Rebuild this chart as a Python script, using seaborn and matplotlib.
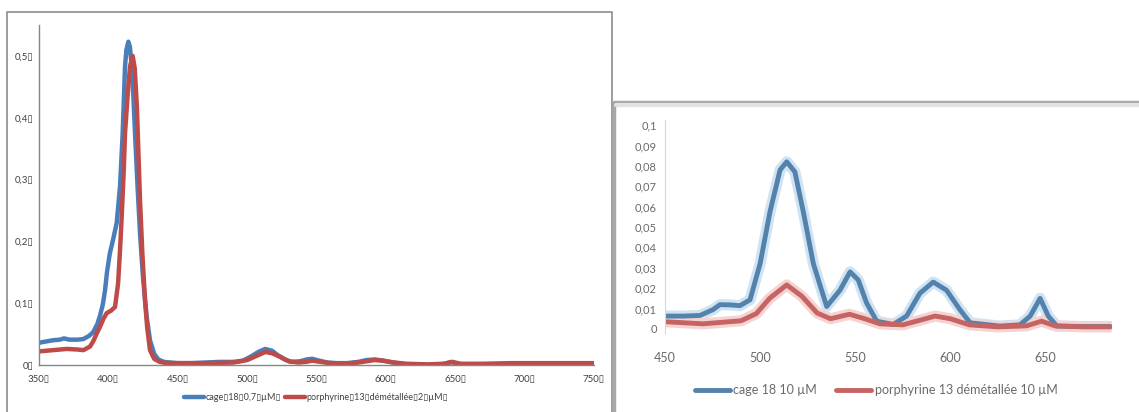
import numpy as np
import pandas as pd
import seaborn as sns
import matplotlib.pyplot as plt
from matplotlib.lines import Line2D

# left spectrum (350-750 nm)
wl_cage = [350, 355, 360, 365, 368, 372, 378, 382, 386, 389, 392, 394, 396, 397.6, 399, 401,
           403.6, 406, 408.4, 410.3, 412, 413, 414.4, 415.5, 416.8, 418, 419.2, 421, 422.8, 425,
           427.6, 430, 433, 436, 440, 450, 460, 470, 480, 490, 497, 503, 508, 513, 518, 522,
           527, 532, 538, 543, 547, 552, 558, 565, 572, 580, 586, 592, 598, 605, 612, 620,
           630, 638, 644, 647, 651, 656, 670, 690, 710, 730, 750]
abs_cage = [0.036, 0.038, 0.040, 0.041, 0.043, 0.041, 0.041, 0.042, 0.047, 0.053, 0.066, 0.080,
            0.098, 0.121, 0.150, 0.180, 0.205, 0.230, 0.289, 0.375, 0.483, 0.510, 0.523, 0.515,
            0.483, 0.435, 0.375, 0.290, 0.213, 0.140, 0.078, 0.040, 0.018, 0.009, 0.005, 0.003,
            0.003, 0.004, 0.005, 0.005, 0.007, 0.014, 0.021, 0.026, 0.023, 0.016, 0.009, 0.005,
            0.006, 0.009, 0.010, 0.007, 0.004, 0.003, 0.003, 0.005, 0.008, 0.009, 0.007, 0.004,
            0.002, -0.001, -0.001, 0.000, 0.003, 0.005, 0.002, -0.001, -0.001, -0.001, 0.000,
            -0.001, 0.000]

wl_porph = [350, 360, 370, 378, 382, 386.8, 389, 391.6, 394, 396.5, 398.8, 402, 404.8, 407,
            408.4, 409.6, 411, 412, 414, 415.6, 417.5, 419, 420.5, 422.8, 424.5, 426.4, 428,
            430, 433, 437, 442, 450, 470, 490, 500, 507, 513, 518, 524, 530, 537, 542, 547,
            553, 560, 570, 580, 586, 592, 598, 606, 615, 630, 642, 648, 654, 670, 690, 710,
            730, 750]
abs_porph = [0.022, 0.024, 0.026, 0.025, 0.024, 0.030, 0.038, 0.051, 0.062, 0.075, 0.084, 0.088,
             0.094, 0.132, 0.186, 0.240, 0.310, 0.375, 0.440, 0.483, 0.500, 0.480, 0.420, 0.267,
             0.180, 0.105, 0.060, 0.024, 0.010, 0.005, 0.003, 0.003, 0.003, 0.004, 0.008, 0.015,
             0.021, 0.019, 0.013, 0.006, 0.004, 0.005, 0.007, 0.005, 0.003, 0.002, 0.004, 0.006,
             0.008, 0.007, 0.004, 0.002, 0.001, 0.002, 0.005, 0.002, 0.002, 0.003, 0.003, 0.003,
             0.003]

# right inset (450-685 nm)
wl_cage_r = [450.9, 460, 468.4, 475.3, 478.9, 484, 489.4, 494.7, 500, 505.2, 510.5, 514, 518.3,
             522.7, 528, 535, 542, 547.3, 551.6, 556, 561.3, 570, 577, 584, 591, 598, 605,
             610.4, 626, 636.6, 642, 647.2, 651.5, 656, 670, 684]
abs_cage_r = [0.0063, 0.0063, 0.0066, 0.0095, 0.0119, 0.0118, 0.0114, 0.0143, 0.032, 0.0575,
              0.078, 0.082, 0.077, 0.0575, 0.032, 0.011, 0.019, 0.028, 0.024, 0.0127, 0.0038,
              0.0022, 0.0063, 0.0175, 0.023, 0.019, 0.0095, 0.003, 0.0014, 0.002, 0.0063, 0.015,
              0.0063, 0.0014, 0.0012, 0.0012]

wl_porph_r = [450.9, 470, 490, 498, 505, 514, 522, 530, 537, 547, 555, 563, 575, 585, 592, 600,
              610, 625, 640, 648, 655, 670, 684]
abs_porph_r = [0.0035, 0.0025, 0.004, 0.0075, 0.015, 0.0216, 0.016, 0.0078, 0.005, 0.0072,
               0.005, 0.0025, 0.002, 0.0045, 0.0063, 0.005, 0.002, 0.001, 0.0015, 0.0038,
               0.0015, 0.001, 0.001]

B = "\u25af"
labels_left = ["cage" + B + "18" + B + "0,7" + B + "µM" + B,
               "porphyrine" + B + "13" + B + "démétallée" + B + "2" + B + "µM" + B]
labels_right = ["cage 18 10 µM", "porphyrine 13 démétallée 10 µM"]

x_ticks_left = [350, 400, 450, 500, 550, 600, 650, 700, 750]
y_ticks_left = [0, 0.1, 0.2, 0.3, 0.4, 0.5]
x_ticks_right = [450, 500, 550, 600, 650]
y_ticks_right = [0, 0.01, 0.02, 0.03, 0.04, 0.05, 0.06, 0.07, 0.08, 0.09, 0.1]

sns.set_style("white")
plt.rcParams['font.family'] = ['Lato', 'DejaVu Sans']

W, H = 1139, 412
fig = plt.figure(figsize=(W / 100, H / 100), dpi=100)

def fx(px):
    return px / W

def fy(py):
    return 1 - py / H

# outer frames
fig.add_artist(Line2D([fx(7), fx(7), fx(612), fx(612)], [0, fy(12), fy(12), 0],
                      color="#8c8c8c", lw=1.2))
fig.add_artist(Line2D([fx(614), fx(614), 1], [0, fy(102), fy(102)], color="#a8a8a8", lw=2.5))
fig.add_artist(Line2D([fx(616), 1], [fy(105), fy(105)], color="#e2e2e2", lw=3))

# ---- left chart
blue = "#4a7ebb"
red = "#be4b48"
ax = fig.add_axes([fx(39), fy(365), fx(594 - 39), (365 - 25) / H])
sns.lineplot(x=wl_cage, y=abs_cage, ax=ax, color=blue, lw=3.2, label=labels_left[0])
sns.lineplot(x=wl_porph, y=abs_porph, ax=ax, color=red, lw=3.2, label=labels_left[1])
ax.set_xlim(350, 750)
ax.set_ylim(0, 0.55)
ax.set_xticks(x_ticks_left)
ax.set_xticklabels([f"{v}{B}" for v in x_ticks_left])
ax.set_yticks(y_ticks_left)
ax.set_yticklabels(["0" + B] + [f"{v:.1f}".replace(".", ",") + B for v in y_ticks_left[1:]])
for s in ["top", "right"]:
    ax.spines[s].set_visible(False)
for s in ["left", "bottom"]:
    ax.spines[s].set_color("#868686")
    ax.spines[s].set_linewidth(1)
ax.tick_params(axis="both", direction="out", length=3, width=0.8, color="#868686",
               labelsize=7, labelcolor="#404040", pad=1)
ax.tick_params(axis="x", pad=4)
ax.legend(loc="center", bbox_to_anchor=(fx(316), fy(398)), bbox_transform=fig.transFigure,
          ncol=2, frameon=False, fontsize=6.5, handlelength=2.2, handletextpad=0.1,
          columnspacing=0.5, labelcolor="#404040")

# ---- right inset (blurry copy of a zoomed chart)
blue_r = "#5383ac"
red_r = "#c56462"
ax2 = fig.add_axes([fx(665), fy(333), fx(1112 - 665), (333 - 120) / H])
sns.lineplot(x=wl_cage_r, y=abs_cage_r, ax=ax2, color="#cfe3f2", lw=8, legend=False)
sns.lineplot(x=wl_porph_r, y=abs_porph_r, ax=ax2, color="#f5d3d3", lw=8, legend=False)
sns.lineplot(x=wl_cage_r, y=abs_cage_r, ax=ax2, color=blue_r, lw=3.5, label=labels_right[0])
sns.lineplot(x=wl_porph_r, y=abs_porph_r, ax=ax2, color=red_r, lw=3.5, label=labels_right[1])
ax2.set_xlim(450, 685)
ax2.set_ylim(-0.002, 0.1025)
ax2.set_xticks(x_ticks_right)
ax2.set_yticks(y_ticks_right)
ax2.set_yticklabels(["0"] + [f"{v:.2f}".rstrip("0").replace(".", ",") for v in y_ticks_right[1:]])
for s in ["top", "right", "bottom"]:
    ax2.spines[s].set_visible(False)
ax2.spines["left"].set_color("#d8d8d8")
ax2.tick_params(axis="y", direction="out", length=4, color="#c8c8c8", labelsize=8,
                labelcolor="#6a6a6a", pad=2)
ax2.tick_params(axis="x", length=0, labelsize=9, labelcolor="#6a6a6a", pad=14)
ax2.legend(loc="center", bbox_to_anchor=(fx(876), fy(390)), bbox_transform=fig.transFigure,
           ncol=2, frameon=False, fontsize=9, handlelength=2.8, handletextpad=0.3,
           columnspacing=1.5, labelcolor="#6a6a6a")

fig.savefig("out.png", dpi=100)
